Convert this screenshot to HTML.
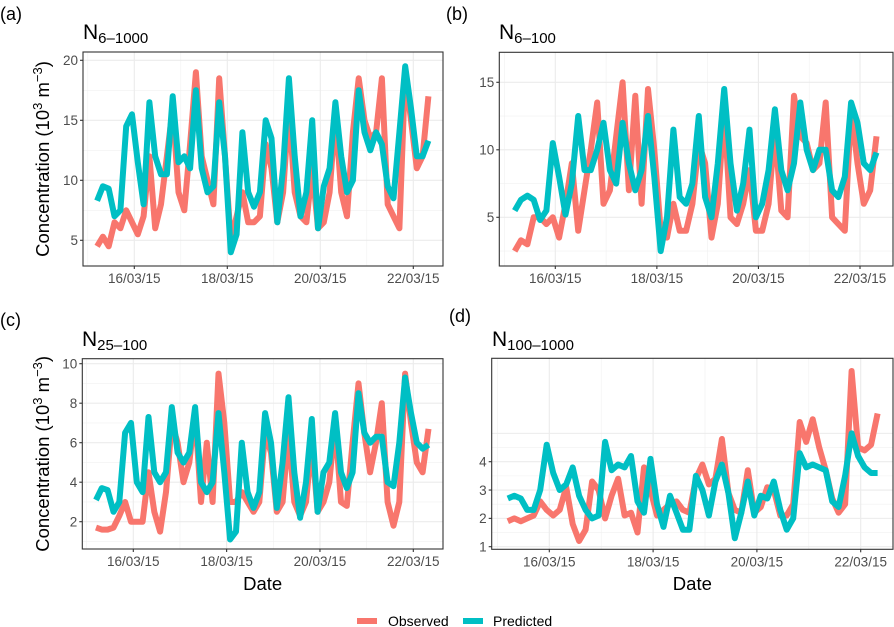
<!DOCTYPE html>
<html><head><meta charset="utf-8">
<style>
html,body{margin:0;padding:0;background:#fff;}
svg{display:block;font-family:"Liberation Sans",Arial,sans-serif;}
</style></head>
<body>
<svg id="chart" width="894" height="627" viewBox="0 0 894 627" xmlns="http://www.w3.org/2000/svg"></svg>
<script>
// time in days since 15/03/15 00:00
const times = [0.2,0.325,0.45,0.575,0.7,0.825,0.95,1.075,1.2,1.325,1.45,1.575,1.7,1.825,1.95,2.075,2.2,2.325,2.45,2.575,2.7,2.825,2.95,3.075,3.2,3.325,3.45,3.575,3.7,3.825,3.95,4.075,4.2,4.325,4.45,4.575,4.7,4.825,4.95,5.075,5.2,5.325,5.45,5.575,5.7,5.825,5.95,6.075,6.2,6.325,6.45,6.575,6.7,6.825,6.95,7.075,7.2,7.325];
const dateTicks = [1,3,5,7];
const dateLabels = ["16/03/15","18/03/15","20/03/15","22/03/15"];
const dateMinor = [0,2,4,6];

const obsA = [4.5,5.3,4.5,6.5,6,7.5,6.5,5.5,7,12,6,8,12,16,9,7.5,13,19,12,10,8,18.5,12,5,7,9,6.5,6.5,7,13,11,6.5,9,16,9,7,6.5,11,6,6.5,9,15.5,9,7,14,18.5,15,13.5,14,18.5,8,7,6,19,15,11,12,17];
const predA = [8.3,9.5,9.3,7,7.5,14.5,15.5,11.5,8,16.5,12,10.5,10.5,17,11.5,12,11,17.5,11,9,9.5,16.5,12,4,5.5,14,9,7.8,9,15,13.5,6.5,11,18.5,12,7,9,15,6,9.5,11,16.5,12,9,10,17.5,14,12.5,14,13,9.5,8.5,14,19.5,16,12,12,13.3];
const obsB = [2.5,3.3,3,5,5,4.5,5,3.5,6,9,4,7,10,13.5,6,7,11,15,7,14,6,14.5,10,4,3.5,6,4,4,6,10.5,9,3.5,6,13,5,4.5,6,8.5,4,4,6,11.5,5.5,5,14,11,10.5,8.5,9,13.5,5,4.5,4,13,9,6,7,11];
const predB = [5.5,6.3,6.6,6.3,4.8,5.5,10.5,8,5.2,7.5,12.5,8.5,8.5,10,12,8.5,7.5,12,9,7,8.5,12.5,8,2.5,5,11.5,6.5,6,7.5,12.5,6.5,5,9,14.5,9,5.5,7.5,11.5,5,6,8.5,13,8.5,7,9,13.5,10,8.5,10,10,7,6.5,8,13.5,12,9,8.5,9.8];
const obsC = [1.7,1.6,1.6,1.7,2.3,3,2,2,2,4.5,2.5,1.5,3.5,7,6,4,5,7.5,3,6,3,9.5,7,3,3,3.5,3,2.5,3,6.5,5.5,2.5,3,6.5,3,2.3,3,6,2.5,3,4,7,3,2.8,6,9,6.5,4.5,6,8,3,1.8,3,9.5,7,5,4.5,6.7];
const predC = [3.1,3.7,3.6,2.5,3,6.5,7,4,3.5,7.3,4.5,4,4.5,7.8,5.5,5,5.5,7.8,4,3.5,4,7.5,4.5,1.1,1.5,6,3.5,2.7,3.5,7.5,6,2.7,5,8.3,4.5,2.2,4,7.2,2.5,4.5,5,7.5,4.5,3.7,4.5,8.5,6.5,6,6.3,6.3,4,3.8,6,9.3,7.5,6,5.7,5.9];
const obsD = [1.9,2,1.9,2,2.1,2.6,2.3,2.1,2.3,3.1,1.8,1.2,1.6,3.3,3,2,2.8,3.4,2.1,2.2,1.5,3.8,3,2.1,2.3,2.5,2.6,2.3,2.2,3.4,3.9,3.2,3.4,4.8,2.9,2.3,2.2,3.7,2.2,2.4,3.1,3,2.1,2.1,2.5,5.4,4.7,5.5,4.5,3.7,2.7,2.2,2.5,7.2,4.5,4.4,4.6,5.7];
const predD = [2.7,2.8,2.7,2.3,2.3,3,4.6,3.6,3,3.2,3.8,2.8,2.3,2,2.1,4.7,3.7,3.9,3.8,4.2,2.6,2.2,4.1,2.5,1.7,2.8,2.2,1.6,1.6,3.5,3,2.1,3.3,3.9,2.9,1.3,2.2,3.3,2.1,2.8,2.7,3.3,2.3,1.6,2,4.3,3.8,3.9,3.8,3.7,2.6,2.4,3.5,5,4.2,3.8,3.6,3.6];

const ticksA=[5,10,15,20], minorA=[7.5,12.5,17.5];
const ticksB=[5,10,15], minorB=[2.5,7.5,12.5];
const ticksC=[2,4,6,8,10], minorC=[1,3,5,7,9];
const ticksD=[1,2,3,4], gridD=[5], minorD=[1.5,2.5,3.5,4.5];

const NS="http://www.w3.org/2000/svg";
const svg=document.getElementById('chart');
function mk(tag,attrs,parent){const e=document.createElementNS(NS,tag);for(const k in attrs)e.setAttribute(k,attrs[k]);(parent||svg).appendChild(e);return e;}

const panels=[
 {id:'a',label:'(a)',lx:0,ly:20,title:'6\u20131000',tx:83,ty:39,box:[83,52,443,266],x1:134.3,x7:413.3,ya:[20,60.3],yb:[5,240.3],ticks:ticksA,minor:minorA,extra:[],obs:obsA,pred:predA,ytitle:true,date:false},
 {id:'b',label:'(b)',lx:446,ly:20,title:'6\u2013100',tx:499,ty:39,box:[499.3,52.3,893,266],x1:555.3,x7:860,ya:[15,82.3],yb:[5,217.3],ticks:ticksB,minor:minorB,extra:[],obs:obsB,pred:predB,ytitle:false,date:false},
 {id:'c',label:'(c)',lx:0,ly:326,title:'25\u2013100',tx:82,ty:346,box:[82.3,358.7,443,549],x1:133.3,x7:413.3,ya:[10,363.7],yb:[2,521.7],ticks:ticksC,minor:minorC,extra:[],obs:obsC,pred:predC,ytitle:true,date:true},
 {id:'d',label:'(d)',lx:449,ly:322,title:'100\u20131000',tx:492,ty:346,box:[491.7,358.3,893,549.3],x1:549.3,x7:860.7,ya:[4,461.7],yb:[1,546.7],ticks:ticksD,minor:minorD,extra:gridD,obs:obsD,pred:predD,ytitle:false,date:true}
];

panels.forEach(p=>{
 const g=mk('g',{});
 
 
 const [L,T,R,B]=p.box;
 const xs=d=>p.x1+(d-1)*(p.x7-p.x1)/6;
 const ys=v=>p.ya[1]+(v-p.ya[0])*(p.yb[1]-p.ya[1])/(p.yb[0]-p.ya[0]);
 const clip=mk('clipPath',{id:'clip'+p.id},g);
 mk('rect',{x:L,y:T,width:R-L,height:B-T},clip);
 const grid=mk('g',{'clip-path':'url(#clip'+p.id+')'},g);
 
 
 p.minor.forEach(v=>mk('line',{x1:L,x2:R,y1:ys(v),y2:ys(v),stroke:'#f0f0f0','stroke-width':0.6},grid));
 dateMinor.forEach(d=>mk('line',{x1:xs(d),x2:xs(d),y1:T,y2:B,stroke:'#f0f0f0','stroke-width':0.6},grid));
 p.ticks.concat(p.extra).forEach(v=>mk('line',{x1:L,x2:R,y1:ys(v),y2:ys(v),stroke:'#ebebeb','stroke-width':1.1},grid));
 dateTicks.forEach(d=>mk('line',{x1:xs(d),x2:xs(d),y1:T,y2:B,stroke:'#ebebeb','stroke-width':1.1},grid));
 [[p.obs,'#F8766D','observed'],[p.pred,'#00BFC4','predicted']].forEach(([arr,col,nm])=>{
   const pts=arr.map((v,i)=>xs(times[i]).toFixed(1)+','+ys(v).toFixed(1)).join(' ');
   const pl=mk('polyline',{points:pts,fill:'none',stroke:col,'stroke-width':6,'stroke-linejoin':'round'},grid);
   
   
 });
 const br=mk('rect',{x:L,y:T,width:R-L,height:B-T,fill:'none',stroke:'#333','stroke-width':1.1},g);
 
 
 p.ticks.forEach(v=>{
   mk('line',{x1:L-3,x2:L,y1:ys(v),y2:ys(v),stroke:'#333','stroke-width':1.1},g);
   const t=mk('text',{x:L-5,y:ys(v)+4.8,'text-anchor':'end','font-size':13.5,fill:'#4d4d4d'},g);
   t.textContent=v;
   
   
 });
 dateTicks.forEach((d,i)=>{
   mk('line',{x1:xs(d),x2:xs(d),y1:B,y2:B+3,stroke:'#333','stroke-width':1.1},g);
   const t=mk('text',{x:xs(d),y:B+17,'text-anchor':'middle','font-size':13.5,fill:'#4d4d4d'},g);
   t.textContent=dateLabels[i];
   
   
 });
 const lab=mk('text',{x:p.lx,y:p.ly,'font-size':18,fill:'#000'},g);
 lab.textContent=p.label;
 
 
 const ti=mk('text',{x:p.tx,y:p.ty,'font-size':21,fill:'#000'},g);
 ti.innerHTML='N<tspan font-size="15" dy="4">'+p.title+'</tspan>';
 
 
 if(p.ytitle){
   const cy=(T+B)/2, cx=49;
   const yt=mk('text',{x:cx,y:cy,'text-anchor':'middle','font-size':18.5,fill:'#000',transform:'rotate(-90 '+cx+' '+cy+')'},g);
   yt.innerHTML='Concentration (10<tspan font-size="13" dy="-7">3</tspan><tspan dy="7"> m</tspan><tspan font-size="13" dy="-7">\u22123</tspan><tspan dy="7">)</tspan>';
   
   
 }
 if(p.date){
   const dt=mk('text',{x:(L+R)/2,y:590,'text-anchor':'middle','font-size':18.5,fill:'#000'},g);
   dt.textContent='Date';
   
   
 }
});

const leg=mk('g',{});


[['Observed','#F8766D',357,388],['Predicted','#00BFC4',463,493]].forEach(([n,c,sx,tx])=>{
 const e=mk('g',{},leg);
 
 
 mk('line',{x1:sx,x2:sx+20,y1:621,y2:621,stroke:c,'stroke-width':6},e);
 const t=mk('text',{x:tx,y:626,'font-size':14,fill:'#000'},e);
 t.textContent=n;
});
</script>
</body></html>
